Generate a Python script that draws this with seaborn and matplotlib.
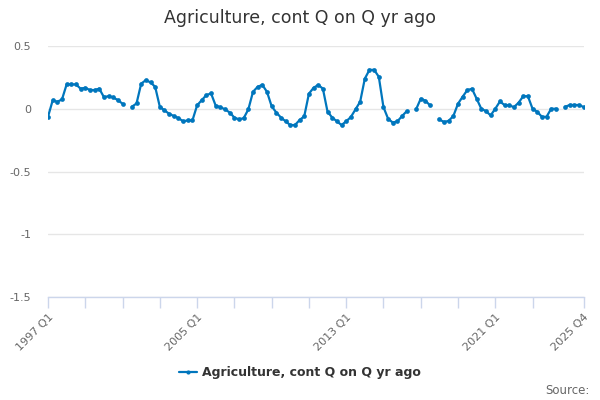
import numpy as np
import pandas as pd
import matplotlib
matplotlib.use("Agg")
import matplotlib.pyplot as plt
import seaborn as sns

title = "Agriculture, cont Q on Q yr ago"
series_name = "Agriculture, cont Q on Q yr ago"
start_year = 1997
n_quarters = 116

values = [
    -0.064, 0.066, 0.056, 0.074, 0.194, 0.194, 0.194, 0.160, 0.167, 0.149,
    0.149, 0.160, 0.093, 0.100, 0.090, 0.069, 0.040, np.nan, 0.016, 0.042,
    0.200, 0.228, 0.210, 0.175, 0.016, -0.013, -0.040, -0.058, -0.074, -0.100,
    -0.093, -0.093, 0.027, 0.069, 0.109, 0.122, 0.024, 0.013, -0.005, -0.030,
    -0.070, -0.085, -0.075, -0.005, 0.135, 0.175, 0.190, 0.135, 0.020, -0.030,
    -0.070, -0.100, -0.130, -0.130, -0.090, -0.060, 0.120, 0.167, 0.190, 0.160,
    -0.024, -0.070, -0.100, -0.130, -0.100, -0.066, -0.005, 0.056, 0.240, 0.310,
    0.310, 0.255, 0.013, -0.080, -0.110, -0.100, -0.058, -0.019, np.nan, -0.005,
    0.080, 0.064, 0.027, np.nan, -0.085, -0.106, -0.096, -0.058, 0.040, 0.096,
    0.149, 0.159, 0.080, 0.000, -0.019, -0.053, 0.000, 0.058, 0.029, 0.027,
    0.013, 0.048, 0.100, 0.100, 0.000, -0.024, -0.064, -0.064, 0.000, 0.000,
    np.nan, 0.016, 0.030, 0.030, 0.030, 0.013,
]

labels = [f"{start_year + i // 4} Q{i % 4 + 1}" for i in range(n_quarters)]
tick_idx = list(range(0, 105, 8)) + [115]
label_idx = [0, 32, 64, 96, 115]
yticks = [0.5, 0, -0.5, -1, -1.5]
ytick_labels = ["0.5", "0", "-0.5", "-1", "-1.5"]

df = pd.DataFrame({"i": np.arange(n_quarters), "v": values})
seg = df["v"].isna().cumsum()
df["seg"] = seg
df = df.dropna()

color = "#0076BD"
grey = "#666666"
axis_col = "#ccd6eb"

sns.set_style("white")
plt.rcParams["font.family"] = ["DejaVu Sans"]

fig = plt.figure(figsize=(6, 4), dpi=100)
ax = fig.add_axes([0.08, 0.2575, 0.893, 0.6275])

sns.lineplot(data=df, x="i", y="v", units="seg", estimator=None, ax=ax,
             color=color, linewidth=1.6, marker="o", markersize=3.4,
             markeredgewidth=0, legend=False)

ax.set_xlim(0, 115)
ax.set_ylim(-1.5, 0.5)
ax.set_yticks(yticks)
ax.set_yticklabels(ytick_labels, color=grey, fontsize=8)
ax.tick_params(axis="y", length=0, pad=12)
ax.yaxis.grid(True, color="#e6e6e6", linewidth=1)
ax.xaxis.grid(False)
ax.set_xticks(tick_idx)
ax.set_xticklabels([labels[i] if i in label_idx else "" for i in tick_idx],
                   rotation=45, ha="right", rotation_mode="anchor",
                   color=grey, fontsize=8)
ax.tick_params(axis="x", bottom=True, direction="out", length=8,
               color=axis_col, width=1, pad=3)
for s in ["top", "right", "left"]:
    ax.spines[s].set_visible(False)
ax.spines["bottom"].set_color(axis_col)
ax.spines["bottom"].set_linewidth(1)
ax.set_xlabel("")
ax.set_ylabel("")

fig.text(0.5, 0.955, title, ha="center", va="center", fontsize=12.5, color="#333333")

handle = matplotlib.lines.Line2D([], [], color=color, linewidth=1.6, marker="o",
                                 markersize=3, markeredgewidth=0)
leg = fig.legend([handle], [series_name], loc="center", bbox_to_anchor=(0.5, 0.068),
                 frameon=False, handlelength=1.4, handletextpad=0.4,
                 prop={"weight": "bold", "size": 9})
for t in leg.get_texts():
    t.set_color("#333333")

fig.text(0.982, 0.024, "Source:", ha="right", va="center", fontsize=8.5, color=grey)

fig.savefig("out.png", dpi=100)
